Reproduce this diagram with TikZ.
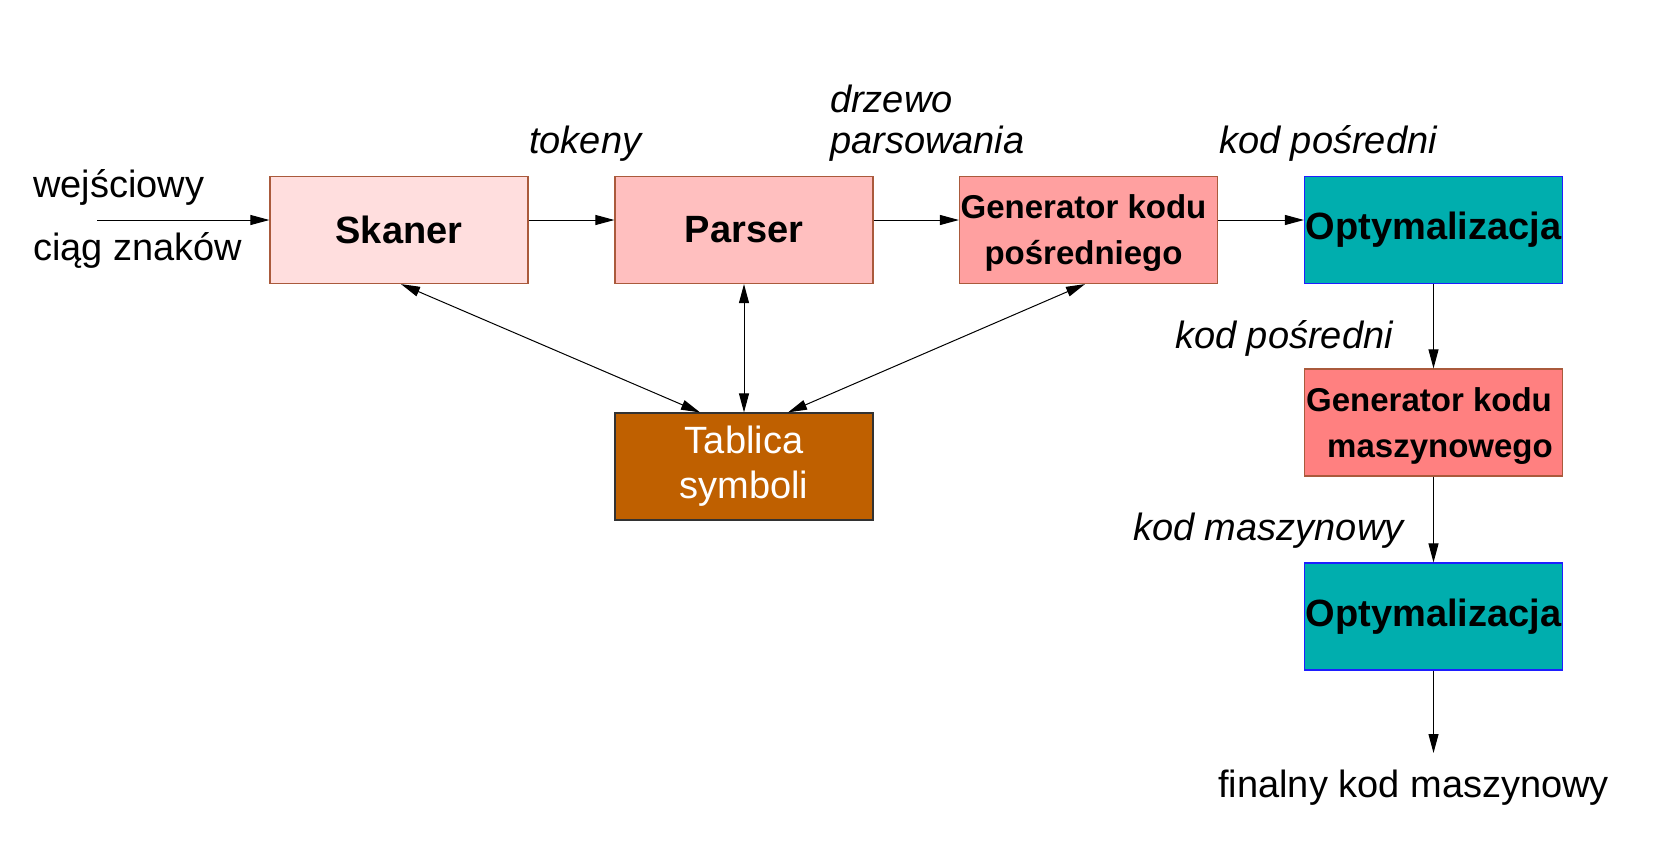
\documentclass[tikz,border=0pt]{standalone}
\usepackage{fontspec}
\setmainfont{Liberation Sans}
\usetikzlibrary{arrows.meta}
\definecolor{bordbr}{RGB}{170,90,60}
\definecolor{fskaner}{RGB}{255,222,222}
\definecolor{fparser}{RGB}{255,191,191}
\definecolor{fgenA}{RGB}{255,160,160}
\definecolor{fgenB}{RGB}{255,128,128}
\definecolor{fopt}{RGB}{0,174,174}
\definecolor{boptb}{RGB}{30,30,255}
\definecolor{ftab}{RGB}{191,96,0}
\definecolor{btab}{RGB}{50,50,50}
\begin{document}
\begin{tikzpicture}[x=1pt,y=-1pt,
 box/.style={minimum width=258pt,minimum height=107pt,inner sep=0pt,line width=1.2pt,draw=bordbr},
 bigbold/.style={font=\fontsize{38}{46}\selectfont\bfseries},
 genfont/.style={font=\fontsize{33}{46}\selectfont\bfseries,align=center},
 lbl/.style={font=\fontsize{38}{41}\selectfont\itshape,inner sep=0pt},
 plain/.style={font=\fontsize{38}{46}\selectfont,inner sep=0pt},
 arr/.style={-{Triangle[length=19pt,width=10pt]},line width=1pt},
 darr/.style={{Triangle[length=19pt,width=10pt]}-{Triangle[length=19pt,width=10pt]},line width=1pt}]
\useasboundingbox (0,0) rectangle (1662,844);
\node[box,fill=fskaner,bigbold] (skaner) at (399,230) {Skaner};
\node[box,fill=fparser,bigbold] (parser) at (744,230) {Parser};
\node[box,fill=fgenA,genfont] (genA) at (1088.5,230) {\rule{0pt}{30pt}Generator kodu\hspace*{10pt}\\pośredniego\hspace*{10pt}};
\node[box,fill=fopt,draw=boptb,bigbold] (optA) at (1433.5,230) {Optymalizacja};
\node[box,fill=fgenB,genfont] (genB) at (1433.5,422.5) {\rule{0pt}{30pt}Generator kodu\hspace*{9pt}\\\hspace*{13pt}maszynowego};
\node[box,fill=fopt,draw=boptb,bigbold] (optB) at (1433.5,616.5) {Optymalizacja};
\node[box,fill=ftab,draw=btab,text=white,align=center,font=\fontsize{38}{45}\selectfont] (tab) at (744,466.5) {Tablica\\symboli};
\coordinate (in) at (97,220);
\coordinate (out) at (1433.5,753);
\draw[arr] (in) -- ([yshift=10pt]skaner.west);
\draw[arr] ([yshift=10pt]skaner.east) -- ([yshift=10pt]parser.west);
\draw[arr] ([yshift=10pt]parser.east) -- ([yshift=10pt]genA.west);
\draw[arr] ([yshift=10pt]genA.east) -- ([yshift=10pt]optA.west);
\draw[arr] (optA) -- (genB);
\draw[arr] (genB) -- (optB);
\draw[arr] (optB) -- (out);
\draw[darr] ([xshift=2pt]skaner.south) -- ([xshift=-44pt]tab.north);
\draw[darr] (parser) -- (tab);
\draw[darr] ([xshift=-3.5pt]genA.south) -- ([xshift=44pt]tab.north);
\node[plain,anchor=base west] (wej) at (33,197) {wejściowy};
\node[plain,anchor=base west] (ciag) at (33,260) {ciąg znaków};
\node[lbl,anchor=base west] (tok) at (529,153) {tokeny};
\node[lbl,anchor=base west] (drz) at (830,112) {drzewo};
\node[lbl,anchor=base west] (pars) at (830,153) {parsowania};
\node[lbl,anchor=base west] (kpA) at (1219,153) {kod pośredni};
\node[lbl,anchor=base west] (kpB) at (1175,348) {kod pośredni};
\node[lbl,anchor=base west] (kmasz) at (1133,540) {kod maszynowy};
\node[plain,anchor=base west] (fin) at (1218,797) {finalny kod maszynowy};
\end{tikzpicture}
\end{document}
